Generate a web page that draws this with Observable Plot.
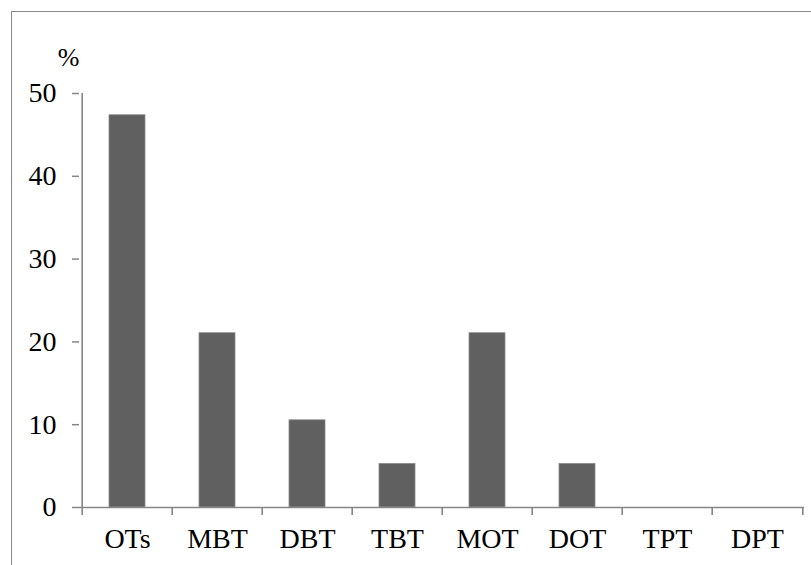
<!DOCTYPE html>
<html>
<head>
<meta charset="utf-8">
<script src="https://cdn.jsdelivr.net/npm/d3@7"></script>
<script src="https://cdn.jsdelivr.net/npm/@observablehq/plot@0.6"></script>
<style>
  html, body { margin: 0; padding: 0; background: #fff; width: 811px; height: 565px; overflow: hidden; }
  #wrap { position: relative; width: 811px; height: 565px; }
  #frame { position: absolute; left: 11px; top: 11px; width: 900px; height: 700px; border: 1.6px solid #888; box-sizing: border-box; }
  #chart { position: absolute; left: 0; top: 0; }
  #chart svg { background: transparent; }
  g[aria-label="y-axis tick"] { stroke: #868686; stroke-width: 1.5px; }
  g[aria-label="y-axis tick label"] { fill: #000; font-size: 28px; }
</style>
</head>
<body>
<div id="wrap">
  <div id="frame"></div>
  <div id="chart"></div>
</div>
<script>
const categories = ["OTs", "MBT", "DBT", "TBT", "MOT", "DOT", "TPT", "DPT"];
const values = [47.37, 21.05, 10.53, 5.26, 21.05, 5.26, 0, 0];
const yTicks = [0, 10, 20, 30, 40, 50];
const yUnit = "%";

const data = categories.map((c, i) => ({cat: c, value: values[i]}));

const W = 811, H = 565, mL = 79, mR = 7, mT = 93, mB = 58;
const step = (W - mL - mR) / categories.length;
const FS = 28;

const chart = Plot.plot({
  width: W,
  height: H,
  marginLeft: mL,
  marginRight: mR,
  marginTop: mT,
  marginBottom: mB,
  style: {fontFamily: "'Liberation Serif', 'Times New Roman', serif", fontSize: FS + "px", color: "#000", background: "transparent", overflow: "visible"},
  x: {domain: categories, paddingInner: 0.6, paddingOuter: 0.3, axis: null},
  y: {domain: [0, 50], axis: null},
  marks: [
    Plot.barY(data, {x: "cat", y: "value", fill: "#606060", stroke: "#8a8a8a", strokeWidth: 0.8}),
    Plot.ruleY([0], {stroke: "#868686", strokeWidth: 1.6}),
    // y-axis line (extends below baseline like the category boundary ticks)
    Plot.ruleX([categories[0]], {x: d => d, y1: -0.97, y2: 50, dx: -step / 2, stroke: "#868686", strokeWidth: 1.6}),
    // category boundary ticks
    Plot.ruleX(categories.slice(1), {x: d => d, y1: -0.97, y2: 0, dx: -step / 2, stroke: "#868686", strokeWidth: 1.6}),
    Plot.ruleX([categories[categories.length - 1]], {x: d => d, y1: -0.97, y2: 0, dx: step / 2, stroke: "#868686", strokeWidth: 1.6}),
    // y ticks + labels
    Plot.axisY({ticks: yTicks, tickSize: 7, tickPadding: 16, label: null, fontSize: FS}),
    // x labels
    Plot.text(categories, {x: d => d, y: 0, dy: 32, text: d => d, fontSize: FS, fill: "#000", lineAnchor: "middle"}),
    // unit label
    Plot.text([yUnit], {frameAnchor: "top-left", dx: -11, dy: -36, text: d => d, fontSize: 26, fill: "#000", textAnchor: "middle", lineAnchor: "middle"})
  ]
});
document.getElementById("chart").appendChild(chart);
</script>
</body>
</html>
